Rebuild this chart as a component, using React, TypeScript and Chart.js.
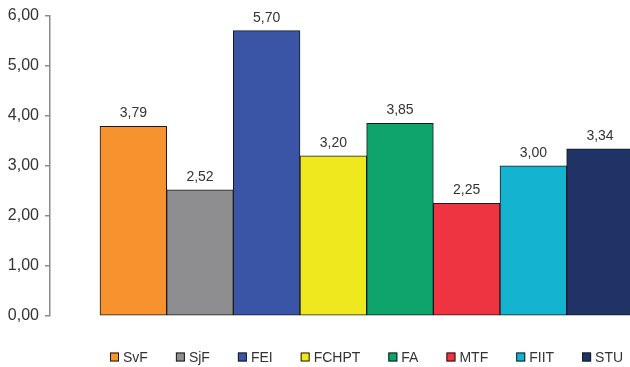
import React, { useEffect, useRef } from "react";
import { Chart, registerables } from "chart.js";

Chart.register(...registerables);

const faculties = ["SvF", "SjF", "FEI", "FCHPT", "FA", "MTF", "FIIT", "STU"];
const values = [3.79, 2.52, 5.7, 3.2, 3.85, 2.25, 3.0, 3.34];
const colors = ["#F7932F", "#8E8E91", "#3A55A6", "#EFE81E", "#0EA46C", "#EE3441", "#14B4D1", "#1F3366"];
const yTicks = [0, 1, 2, 3, 4, 5, 6];

const FONT = "'Liberation Sans', Arial, sans-serif";
const fmt = (v: number) => v.toFixed(2).replace(".", ",");

// Value written above each bar
const valueLabels = {
  id: "valueLabels",
  afterDatasetsDraw(chart: any) {
    const ctx = chart.ctx;
    const meta = chart.getDatasetMeta(0);
    ctx.save();
    ctx.font = `14px ${FONT}`;
    ctx.fillStyle = "#333";
    ctx.textAlign = "center";
    ctx.textBaseline = "alphabetic";
    meta.data.forEach((bar: any, i: number) => {
      ctx.fillText(fmt(values[i]), bar.x, bar.y - 9);
    });
    ctx.restore();
  },
};

// Legend row under the plot: small framed swatch followed by the faculty name
const legendRow = {
  id: "legendRow",
  afterDraw(chart: any) {
    const ctx = chart.ctx;
    const box = 9;
    const textGap = 4;
    const itemGap = 28;
    const startX = 110;
    const centerY = 357;
    ctx.save();
    ctx.font = `14px ${FONT}`;
    ctx.textBaseline = "middle";
    ctx.textAlign = "left";
    let x = startX;
    faculties.forEach((name, i) => {
      ctx.fillStyle = colors[i];
      ctx.fillRect(x, centerY - box / 2, box, box);
      ctx.strokeStyle = "#1a1a1a";
      ctx.lineWidth = 1;
      ctx.strokeRect(x + 0.5, centerY - box / 2 + 0.5, box - 1, box - 1);
      ctx.fillStyle = "#333";
      ctx.fillText(name, x + box + textGap, centerY + 1);
      x += box + textGap + ctx.measureText(name).width + itemGap;
    });
    ctx.restore();
  },
};

export default function App() {
  const ref = useRef<HTMLCanvasElement>(null);

  useEffect(() => {
    document.body.style.margin = "0";
    const chart = new Chart(ref.current!, {
      type: "bar",
      data: {
        datasets: [
          {
            data: values.map((v, i) => ({ x: i, y: v })),
            backgroundColor: colors,
            borderColor: "#1a1a1a",
            borderWidth: 1,
            borderSkipped: false,
            barPercentage: 1,
            categoryPercentage: 1,
          },
        ],
      },
      options: {
        animation: false,
        responsive: false,
        layout: { padding: { top: 14, right: 0, bottom: 51, left: 0 } },
        scales: {
          x: {
            type: "linear",
            min: -1.25,
            max: 7.45,
            offset: false,
            display: false,
          },
          y: {
            min: 0,
            max: 6,
            afterFit: (scale: any) => {
              scale.width = 50;
            },
            afterBuildTicks: (scale: any) => {
              scale.ticks = yTicks.map((v) => ({ value: v }));
            },
            ticks: {
              color: "#333",
              padding: 6,
              font: { family: FONT, size: 16 },
              callback: (v: any) => fmt(Number(v)),
            },
            grid: {
              drawOnChartArea: false,
              drawTicks: true,
              tickLength: 5,
              color: "#8a8a8a",
              lineWidth: 1.5,
            },
            border: { display: true, color: "#8a8a8a", width: 1.5 },
          },
        },
        plugins: {
          tooltip: { enabled: false },
          legend: { display: false },
        },
      },
      plugins: [valueLabels, legendRow],
    });
    return () => chart.destroy();
  }, []);

  return (
    <div style={{ position: "absolute", left: 0, top: 0, width: 630, height: 367 }}>
      <canvas ref={ref} width={630} height={367} />
    </div>
  );
}
